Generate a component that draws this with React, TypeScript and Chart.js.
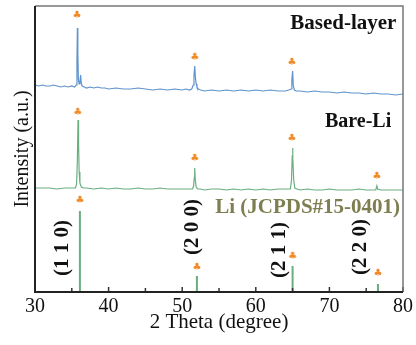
import React, { useEffect, useRef } from "react";
import { Chart, registerables } from "chart.js";
Chart.register(...registerables);

// ---- data (intensity in arbitrary units) ----
const basedTheta = [30, 30.5, 31, 31.5, 32, 32.5, 33, 33.5, 34, 34.5, 35, 35.4, 35.6, 35.7, 35.76, 35.82, 35.9, 36.0, 36.1, 36.2, 36.28, 36.4, 36.7, 37, 37.5, 38, 38.5, 39, 39.5, 40, 41, 42, 43, 44, 45, 46, 47, 48, 49, 50, 50.5, 51, 51.3, 51.5, 51.6, 51.7, 51.8, 51.9, 52.0, 52.2, 52.5, 53, 54, 55, 56, 57, 58, 59, 60, 61, 62, 63, 64, 64.5, 64.8, 64.9, 65.0, 65.1, 65.25, 65.5, 66, 67, 68, 69, 70, 71, 72, 73, 74, 75, 76, 77, 78, 79, 80];
const basedIntensity = [207, 206, 207, 206, 206, 207, 206, 205, 206, 205, 206, 205, 207, 230, 264, 238, 212, 208, 210, 217, 209, 206, 205, 204, 205, 204, 205, 204, 204, 203, 204, 203, 203, 204, 203, 202, 203, 202, 203, 202, 203, 202, 203, 207, 216, 226, 214, 208, 205, 203, 202, 201, 202, 201, 202, 201, 202, 201, 202, 201, 202, 201, 201, 202, 203, 212, 221, 206, 202, 201, 201, 200, 201, 200, 200, 199, 200, 199, 199, 198, 199, 198, 198, 197, 198];

const bareTheta = [30, 31, 32, 33, 34, 35, 35.5, 35.65, 35.75, 35.85, 35.92, 36.0, 36.1, 36.3, 36.6, 37, 38, 39, 40, 41, 42, 43, 44, 45, 46, 47, 48, 49, 50, 51, 51.4, 51.55, 51.65, 51.7, 51.78, 51.9, 52.1, 52.5, 53, 54, 55, 56, 57, 58, 59, 60, 61, 62, 63, 64, 64.7, 64.85, 64.95, 65.0, 65.05, 65.15, 65.3, 65.6, 66, 67, 68, 69, 70, 71, 72, 73, 74, 75, 76, 76.3, 76.45, 76.55, 77, 78, 79, 80];
const bareIntensity = [104, 104, 104, 103, 104, 104, 104, 108, 130, 172, 148, 120, 109, 105, 104, 104, 103, 104, 103, 104, 103, 103, 104, 103, 103, 104, 103, 103, 103, 103, 103, 106, 115, 124, 112, 105, 103, 103, 102, 103, 103, 102, 103, 102, 103, 102, 103, 102, 103, 103, 103, 112, 135, 144, 134, 112, 104, 103, 102, 103, 102, 102, 103, 102, 102, 102, 103, 102, 102, 102, 106, 103, 102, 102, 102, 102];

const refTheta = [36.1, 52.0, 65.0, 76.6];
const refIntensity = [81, 16, 26, 8];

const basedMarkTheta = [35.7, 51.7, 64.9];
const basedMarkY = [277, 235, 230];
const bareMarkTheta = [35.8, 51.7, 64.9, 76.45];
const bareMarkY = [180, 134, 154, 116];
const refMarkTheta = [36.1, 52.0, 65.0, 76.6];
const refMarkY = [92, 25, 36, 19];

const xTicks = [30, 40, 50, 60, 70, 80];
const xMinorTicks = [35, 45, 55, 65, 75];

const seriesLabels = ["Based-layer", "Bare-Li", "Li (JCPDS#15-0401)"];
const hklLabels = ["(1 1 0)", "(2 0 0)", "(2 1 1)", "(2 2 0)"];

// ---- styles ----
const BLUE = "#5f93cc";
const GREEN = "#6aae80";
const ORANGE = "#f08a26";
const OLIVE = "#7e7e50";
const SERIF = "'Liberation Serif', 'Times New Roman', serif";

// annotation placement (data coordinates)
const seriesLabelPos = [
  { x: 79.1, y: 268, color: "#111", size: 21 },
  { x: 78.4, y: 170, color: "#111", size: 20 },
  { x: 79.6, y: 84, color: OLIVE, size: 21 },
];
const hklPos = [
  { x: 33.8, y: 44 },
  { x: 51.4, y: 65 },
  { x: 63.2, y: 42 },
  { x: 74.2, y: 45 },
];

const pairs = (xs: number[], ys: number[]) => xs.map((x, i) => ({ x, y: ys[i] }));

export default function App() {
  const ref = useRef<HTMLCanvasElement>(null);
  useEffect(() => {
    document.body.style.margin = "0";
    const club = document.createElement("canvas");
    club.width = 10;
    club.height = 10;
    const cc = club.getContext("2d")!;
    cc.fillStyle = ORANGE;
    cc.font = "10px 'DejaVu Sans'";
    cc.textAlign = "center";
    cc.textBaseline = "middle";
    cc.fillText("\u2663", 5, 5.5);

    const refLine: any[] = [];
    refTheta.forEach((t, i) => {
      refLine.push({ x: t, y: 0 }, { x: t, y: refIntensity[i] }, { x: t, y: null });
    });

    const framePlugin = {
      id: "frame",
      afterDatasetsDraw(chart: any) {
        const { ctx, chartArea: a, scales } = chart;
        const xs = scales.x;
        ctx.save();
        // inward ticks
        ctx.strokeStyle = "#333";
        ctx.lineWidth = 1.5;
        xTicks.forEach((t) => {
          const px = xs.getPixelForValue(t);
          ctx.beginPath();
          ctx.moveTo(px, a.bottom);
          ctx.lineTo(px, a.bottom - 5);
          ctx.stroke();
        });
        xMinorTicks.forEach((t) => {
          const px = xs.getPixelForValue(t);
          ctx.beginPath();
          ctx.moveTo(px, a.bottom);
          ctx.lineTo(px, a.bottom - 4);
          ctx.stroke();
        });
        // frame
        ctx.strokeStyle = "#777";
        ctx.lineWidth = 1.5;
        ctx.beginPath();
        ctx.moveTo(a.left, a.top);
        ctx.lineTo(a.right, a.top);
        ctx.lineTo(a.right, a.bottom);
        ctx.stroke();
        ctx.strokeStyle = "#222";
        ctx.lineWidth = 2;
        ctx.beginPath();
        ctx.moveTo(a.left, a.top);
        ctx.lineTo(a.left, a.bottom);
        ctx.lineTo(a.right, a.bottom);
        ctx.stroke();

        // labels
        const ys = scales.y;
        seriesLabels.forEach((s, i) => {
          const p = seriesLabelPos[i];
          ctx.fillStyle = p.color;
          ctx.font = `bold ${p.size}px ${SERIF}`;
          ctx.textAlign = "right";
          ctx.textBaseline = "middle";
          ctx.fillText(s, xs.getPixelForValue(p.x), ys.getPixelForValue(p.y));
        });
        hklLabels.forEach((s, i) => {
          const p = hklPos[i];
          ctx.save();
          ctx.translate(xs.getPixelForValue(p.x), ys.getPixelForValue(p.y));
          ctx.rotate(-Math.PI / 2);
          ctx.fillStyle = "#111";
          ctx.font = `bold 21px ${SERIF}`;
          ctx.textAlign = "center";
          ctx.textBaseline = "middle";
          ctx.fillText(s, 0, 0);
          ctx.restore();
        });
        ctx.restore();
      },
    };

    const markerDs = (xs: number[], ys: number[]) => ({
      type: "scatter" as const,
      data: pairs(xs, ys),
      pointStyle: club,
      pointRadius: 4,
      showLine: false,
    });

    const chart = new Chart(ref.current!, {
      type: "line",
      data: {
        datasets: [
          { data: pairs(basedTheta, basedIntensity), borderColor: BLUE, borderWidth: 1.2, pointRadius: 0, tension: 0 },
          { data: pairs(bareTheta, bareIntensity), borderColor: GREEN, borderWidth: 1.2, pointRadius: 0, tension: 0 },
          { data: refLine, borderColor: GREEN, borderWidth: 2, pointRadius: 0, spanGaps: false },
          markerDs(basedMarkTheta, basedMarkY),
          markerDs(bareMarkTheta, bareMarkY),
          markerDs(refMarkTheta, refMarkY),
        ] as any,
      },
      options: {
        responsive: false,
        animation: false,
        layout: { padding: { top: 6, right: 12, left: 0, bottom: 0 } },
        plugins: { legend: { display: false }, tooltip: { enabled: false } },
        scales: {
          x: {
            type: "linear",
            min: 30,
            max: 80,
            afterFit: (s: any) => { s.height = 53; },
            afterBuildTicks: (s: any) => { s.ticks = xTicks.map((v) => ({ value: v })); },
            grid: { display: false, drawTicks: false },
            border: { display: false },
            ticks: { padding: 3, color: "#111", font: { family: SERIF, size: 20 } },
            title: { display: true, text: "2 Theta (degree)", color: "#111", font: { family: SERIF, size: 21 }, padding: { top: 0, bottom: 10 } },
          },
          y: {
            type: "linear",
            min: 0,
            max: 286,
            afterFit: (s: any) => { s.width = 35; },
            grid: { display: false, drawTicks: false },
            border: { display: false },
            ticks: { display: false },
            title: { display: true, text: "Intensity (a.u.)", color: "#111", font: { family: SERIF, size: 20 }, padding: { top: 11, bottom: 0 } },
          },
        },
      },
      plugins: [framePlugin],
    });
    return () => chart.destroy();
  }, []);
  return (
    <div style={{ width: 416, height: 345 }}>
      <canvas ref={ref} width={416} height={345} style={{ display: "block" }} />
    </div>
  );
}
